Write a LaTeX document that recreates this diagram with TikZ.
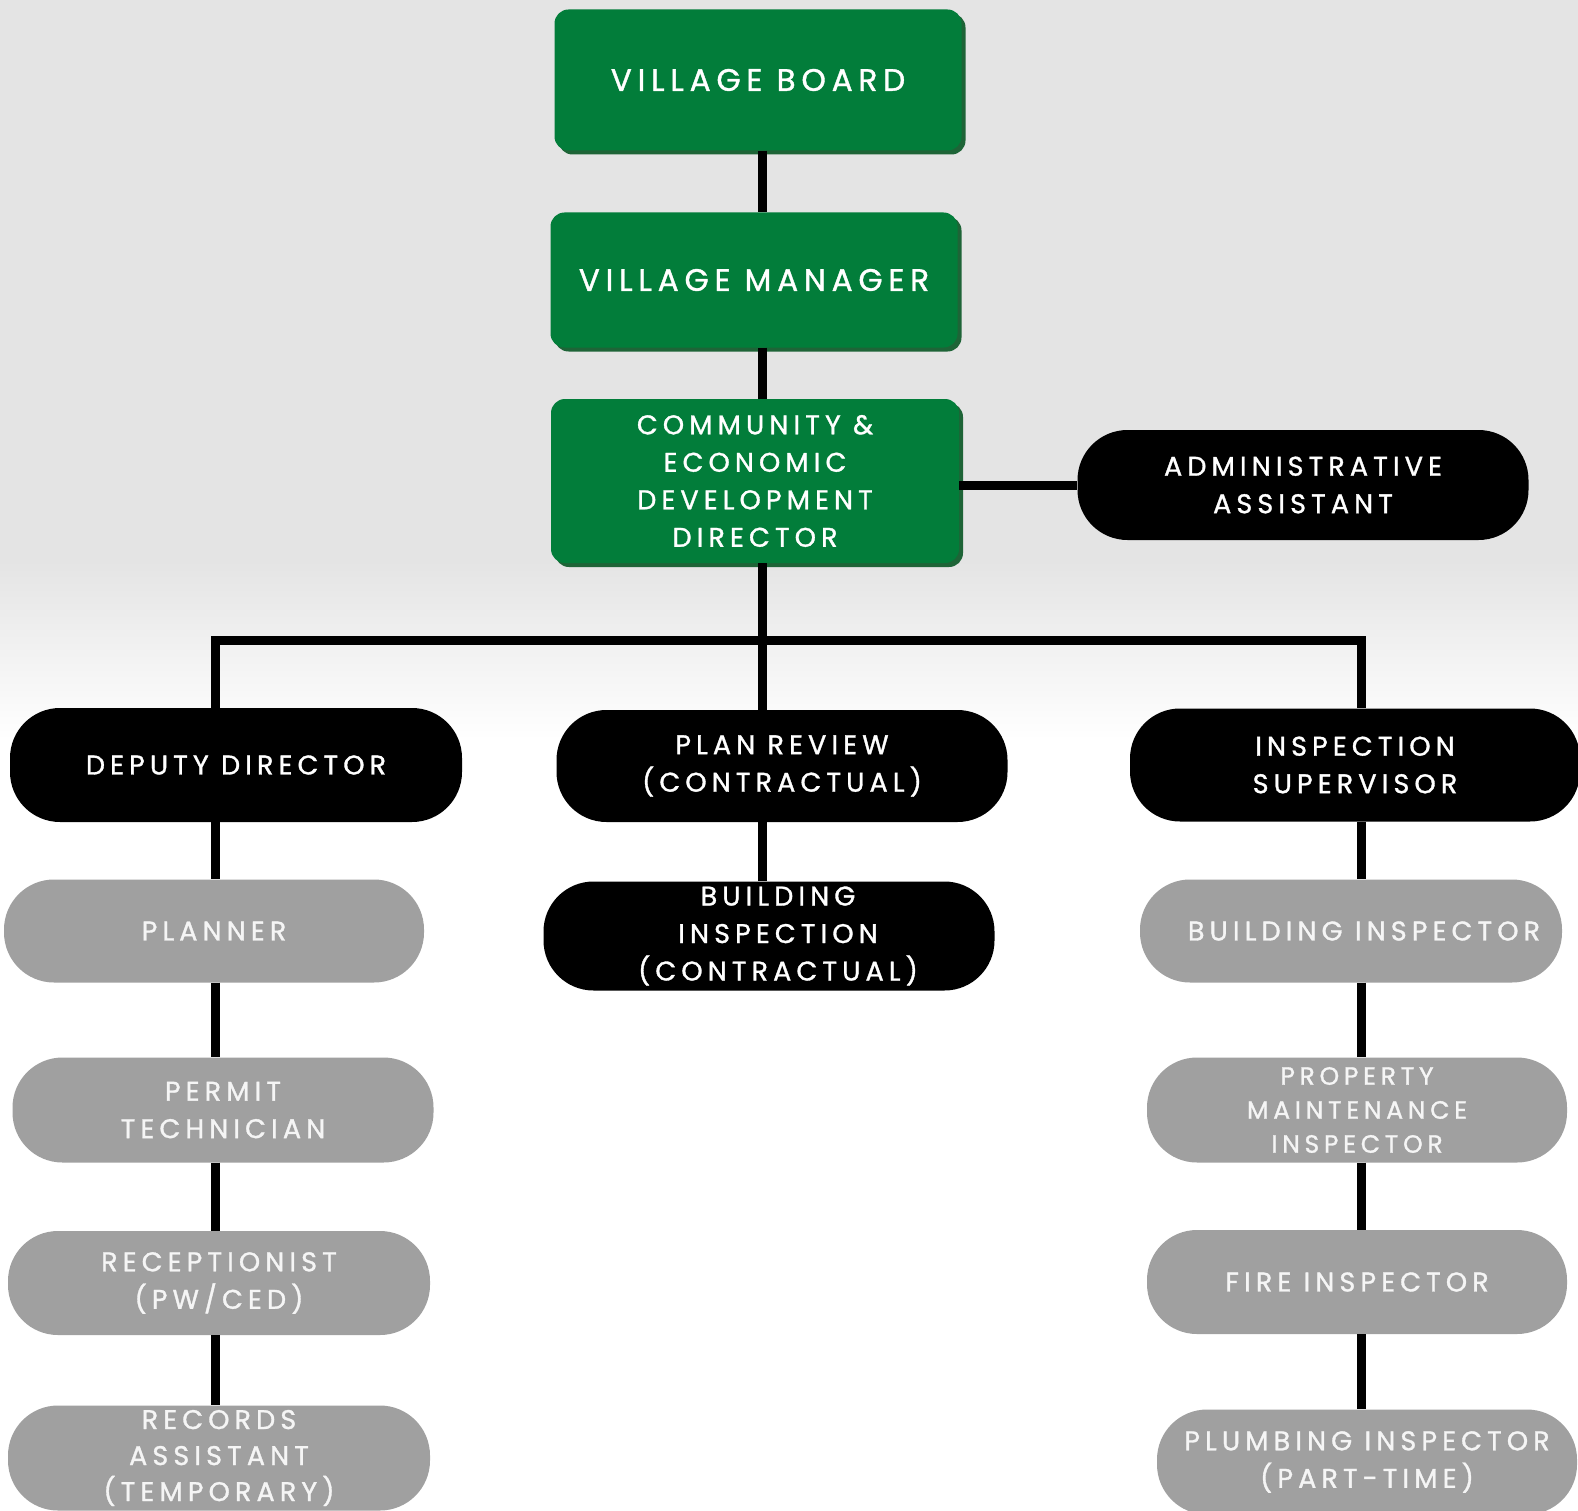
\documentclass[tikz,border=0pt]{standalone}
\usepackage{fontspec}
\setmainfont{Poppins}[LetterSpace=19, FakeBold=1.2]
\usetikzlibrary{shadows}
\definecolor{gbox}{RGB}{2,125,58}
\definecolor{gshadow}{RGB}{30,100,55}
\definecolor{pillgrey}{RGB}{160,160,160}
\definecolor{bgtop}{RGB}{228,228,228}
\newcommand\fbig{\fontsize{31}{40}\selectfont}
\newcommand\fnorm{\fontsize{27}{37.5}\selectfont}
\tikzset{
  base/.style={inner sep=0pt, align=center, text=white, font=\fnorm},
  greenbox/.style={base, fill=gbox, rounded corners=14pt,
     drop shadow={shadow xshift=4pt, shadow yshift=-4pt, fill=gshadow, opacity=1}},
  blackpill/.style={base, fill=black, rounded corners=50pt},
  greypill/.style={base, fill=pillgrey, rounded corners=50pt, text=white!96!black},
  conn/.style={line width=9pt, black},
}
\begin{document}
\begin{tikzpicture}[x=1pt,y=-1pt]
\useasboundingbox (0,0) rectangle (1578,1511);
\fill[bgtop] (0,0) rectangle (1578,560);
\shade[top color=bgtop, bottom color=white] (0,560) rectangle (1578,740);
\fill[white] (0,740) rectangle (1578,1511);

% green boxes
\node[greenbox, font=\fbig, minimum width=407pt, minimum height=141pt] (vb) at (758,80) {VILLAGE BOARD};
\node[greenbox, font=\fbig, minimum width=407pt, minimum height=135pt] (vm) at (754,280) {VILLAGE MANAGER};
\node[greenbox, minimum width=408pt, minimum height=164pt] (ced) at (755,481) {COMMUNITY \&\\ECONOMIC\\DEVELOPMENT\\DIRECTOR};
\node[blackpill, minimum width=451pt, minimum height=110pt] (admin) at (1303,485) {ADMINISTRATIVE\\ASSISTANT};

% second level
\node[blackpill, minimum width=452pt, minimum height=114pt] (dd) at (236,765) {DEPUTY DIRECTOR};
\node[blackpill, minimum width=451pt, minimum height=112pt] (pr) at (782,766) {PLAN REVIEW\\(CONTRACTUAL)};
\node[blackpill, minimum width=450pt, minimum height=113pt] (is) at (1355,765) {INSPECTION\\SUPERVISOR};

% left column
\node[greypill, minimum width=420pt, minimum height=103pt] (planner) at (214,931) {PLANNER};
\node[greypill, minimum width=421pt, minimum height=105pt] (permit) at (223,1110) {PERMIT\\TECHNICIAN};
\node[greypill, minimum width=422pt, minimum height=104pt] (recep) at (219,1283) {RECEPTIONIST\\(PW/CED)};
\node[greypill, minimum width=422pt, minimum height=105pt, font=\fontsize{27}{36}\selectfont] (records) at (219,1458) {RECORDS\\ASSISTANT\\(TEMPORARY)};

% middle column
\node[blackpill, minimum width=451pt, minimum height=109pt] (bi) at (769,936) {\hspace*{18pt}BUILDING\\\hspace*{18pt}INSPECTION\\\hspace*{18pt}(CONTRACTUAL)};

% right column
\node[greypill, minimum width=422pt, minimum height=103pt] (binsp) at (1351,931) {\hspace*{26pt}BUILDING INSPECTOR};
\node[greypill, minimum width=420pt, minimum height=105pt, font=\fontsize{25}{34}\selectfont] (pm) at (1357,1110) {PROPERTY\\MAINTENANCE\\INSPECTOR};
\node[greypill, minimum width=420pt, minimum height=104pt] (fire) at (1357,1282) {FIRE INSPECTOR};
\node[greypill, minimum width=420pt, minimum height=105pt] (plumb) at (1367,1462) {PLUMBING INSPECTOR\\(PART-TIME)};

% connector guides
\coordinate (cx) at (762,0);
\coordinate (lx) at (215,0);
\coordinate (rx) at (1361,0);
\coordinate (busl) at (215,640);
\coordinate (busr) at (1361,640);

\draw[conn] (vb.south -| cx) -- (vm.north -| cx);
\draw[conn] (vm.south -| cx) -- (ced.north -| cx);
\draw[conn] (ced.south -| cx) -- (pr.north -| cx);
\draw[conn] (ced.east |- admin.west) -- (admin.west);
\draw[conn] (dd.north -| lx) -- (busl) -- (busr) -- (is.north -| rx);
\draw[conn] (dd.south -| lx) -- (planner.north -| lx);
\draw[conn] (planner.south -| lx) -- (permit.north -| lx);
\draw[conn] (permit.south -| lx) -- (recep.north -| lx);
\draw[conn] (recep.south -| lx) -- (records.north -| lx);
\draw[conn] (pr.south -| cx) -- (bi.north -| cx);
\draw[conn] (is.south -| rx) -- (binsp.north -| rx);
\draw[conn] (binsp.south -| rx) -- (pm.north -| rx);
\draw[conn] (pm.south -| rx) -- (fire.north -| rx);
\draw[conn] (fire.south -| rx) -- (plumb.north -| rx);
\end{tikzpicture}
\end{document}
